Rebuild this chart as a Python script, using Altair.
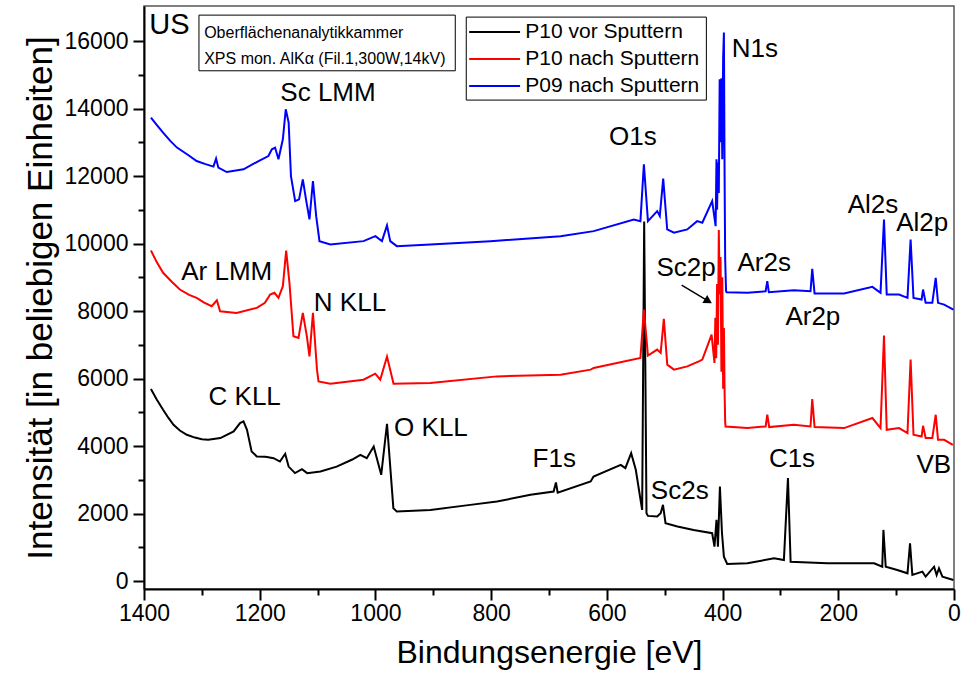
import altair as alt
import pandas as pd

# ---------------- spectra: (binding energy [eV], intensity) ----------------
black = [(1388, 5690), (1378, 5380), (1367, 5076), (1358, 4840), (1349, 4630), (1338, 4460),
         (1326, 4334), (1312, 4250), (1300, 4200), (1289, 4185),
         (1268, 4235), (1245, 4432), (1234, 4680), (1228, 4730), (1222, 4480), (1214, 3840),
         (1205, 3690), (1190, 3680), (1176, 3640), (1165, 3540), (1156, 3770), (1150, 3390),
         (1139, 3197), (1127, 3315), (1118, 3197), (1095, 3244), (1067, 3390), (1040, 3600),
         (1026, 3740), (1015, 3640), (1003, 3986), (990, 3146), (980, 4660), (969, 2158),
         (963, 2057), (905, 2107), (836, 2256), (790, 2355), (732, 2553), (692, 2652),
         (688, 2918), (685, 2620), (628, 2948), (623, 3096), (576, 3443), (568, 3345),
         (558, 3790), (550, 3295), (539, 2107), (535.5, 10650), (531.5, 2009), (529, 1930),
         (513, 1910), (507, 2009), (503, 2256), (498.6, 1712), (478, 1613), (450, 1514),
         (418, 1416), (414, 1018), (410.5, 1811), (408, 1018), (404.6, 2800), (401, 1416),
         (397.7, 721), (392, 505), (357, 525), (311, 674), (294, 623), (287, 3048),
         (282.4, 573), (219, 525), (138, 525), (124, 424), (122, 1514), (118, 424),
         (98, 327), (80.4, 228), (76, 1119), (72, 178), (54.6, 277), (49, 128),
         (34.4, 424), (30, 178), (26, 377), (20, 128), (1, 30)]

red = [(1388, 9795), (1378, 9450), (1367, 9134), (1352, 8870), (1338, 8638), (1322, 8480),
       (1309, 8391), (1296, 8250), (1283, 8143), (1274, 8320),
       (1268.5, 7994), (1240, 7945), (1205, 8094), (1191, 8243), (1182, 8489), (1174.5, 8540),
       (1167.6, 8391), (1160, 8736), (1154.3, 9795), (1148.6, 8836), (1141.7, 7252),
       (1133, 7203), (1125.5, 7945), (1118.5, 7252), (1114, 6658), (1108, 7945), (1101, 6263),
       (1098.4, 5916), (1078, 5848), (1020.6, 5966), (1000.3, 6144), (991.7, 5966),
       (980, 6650), (968.7, 5848), (905, 5868), (790, 6064), (680, 6115), (628, 6263),
       (622.7, 6313), (542, 6610), (536, 8044), (529, 6680), (513, 6857), (507, 6758),
       (501.5, 7768), (495.6, 6411), (484, 6263), (461, 6361), (441, 6509), (435, 6560),
       (426.5, 6955), (419, 7302), (414, 6462), (412.5, 7800), (411, 6600), (409.5, 8800),
       (408, 7000), (406.5, 10400), (405, 8500), (403.5, 9600), (402, 6200), (400.5, 9000),
       (399, 5700), (397.7, 7500), (396.5, 5600), (395.5, 4700), (394.8, 4580), (357, 4532),
       (325.6, 4580), (322.7, 4927), (319.4, 4562), (277, 4630), (248, 4580), (245, 5393),
       (241, 4562), (190, 4532), (141, 4829), (127, 4532), (121, 7272), (116.3, 4482),
       (95, 4532), (80.4, 4384), (75, 6560), (70, 4334), (56, 4283), (53.5, 4600),
       (49, 4236), (37.5, 4236), (31.6, 4927), (27.6, 4185), (17, 4185), (2, 4037)]

blue = [(1388, 13734), (1378, 13520), (1367, 13290), (1355, 13050), (1343, 12844),
        (1325, 12640), (1309, 12446), (1295, 12360), (1280, 12280),
        (1275.4, 12517), (1271.5, 12250), (1257, 12120), (1228, 12200), (1202, 12446),
        (1185, 12594), (1179, 12793), (1173.4, 12844), (1167.6, 12496), (1160, 13090),
        (1155, 13980), (1150, 13586), (1146, 12000), (1138.7, 11259), (1132, 11309),
        (1125.5, 11903), (1120, 11309), (1114, 10715), (1108, 11853), (1102.4, 10813),
        (1096.7, 10072), (1078, 9973), (1020.6, 10072), (1000, 10220), (988.7, 10072),
        (980, 10537), (974.4, 10072), (963, 9923), (905, 9973), (801, 10072), (680, 10220),
        (622.7, 10368), (553.5, 10715), (542, 10665), (536, 12350), (529, 10665),
        (513, 10961), (508.5, 10813), (502.6, 11922), (495.7, 10418), (484, 10320),
        (461, 10418), (444, 10665), (435, 10617), (418, 11259), (412, 10517),
        (410.5, 12500), (409.5, 11000), (408, 12400), (406.5, 11500), (405, 14870),
        (403.5, 13000), (402, 14900), (400.5, 12500), (399, 15500), (397.7, 16256),
        (396.5, 12000), (395.5, 9528), (394, 8600), (393, 8557), (357, 8540),
        (325.6, 8587), (322.7, 8884), (320, 8557), (277, 8617), (248, 8587), (245, 9252),
        (241, 8519), (190, 8519), (141, 8717), (127, 8540), (121, 10715), (116.3, 8489),
        (95, 8489), (80.4, 8391), (75, 10122), (70, 8391), (56, 8341), (53.5, 8638),
        (49, 8243), (37.5, 8243), (31.6, 8985), (27.6, 8243), (17, 8192), (1, 8044)]

series_names = ["P10 vor Sputtern", "P10 nach Sputtern", "P09 nach Sputtern"]
series_colors = ["#000000", "#ff0000", "#0000ff"]

# ---------------- annotations ----------------
peak_labels = ["Sc LMM", "Ar LMM", "N KLL", "C KLL", "O KLL", "F1s", "O1s", "N1s",
               "Sc2p", "Ar2s", "Ar2p", "Al2s", "Al2p", "Sc2s", "C1s", "VB"]
peak_E = [1082, 1257, 1044, 1226, 904, 691, 555, 344, 463, 328, 244, 140, 55, 474, 280, 35]
peak_I = [14459, 9164, 8246, 5443, 4524, 3606, 13165, 15753, 9265, 9431, 7832, 11141,
          10598, 2676, 3606, 3437]

info_lines = ["Oberflächenanalytikkammer", "XPS mon. AlKα (Fil.1,300W,14kV)"]
info_E = [1296, 1296]
info_I = [16247, 15462]
info_box_E = [1305, 862]
info_box_I = [16770, 15120]

corner_text = ["US"]
corner_E = [1391]
corner_I = [16474]

arrow_E = [470.7, 424.7]
arrow_I = [8770, 8296]

# legend placed in data coordinates
legend_box_E = [843, 428]
legend_box_I = [16711, 14252]
legend_line_E = [838, 750]
legend_row_I = [16267, 15467, 14667]
legend_text_E = 741

x_major = list(range(0, 1401, 200))
x_minor = list(range(100, 1400, 200))
y_major = list(range(0, 16001, 2000))
y_minor = list(range(1000, 16000, 2000))

FONT = "Liberation Sans"


def frame(pts, name):
    return pd.DataFrame({"E": [p[0] for p in pts], "I": [p[1] for p in pts],
                         "idx": list(range(len(pts))), "series": name})


xscale = alt.Scale(domain=[0, 1400], reverse=True, nice=False, zero=False)
yscale = alt.Scale(domain=[-237, 17040], nice=False, zero=False)

x_enc = alt.X("E:Q", scale=xscale,
              axis=alt.Axis(values=x_major, format="d", title="Bindungsenergie [eV]",
                            orient="bottom", tickSize=11, tickWidth=2, domainWidth=2,
                            labelFontSize=23, titleFontSize=32, labelPadding=2,
                            titlePadding=12, labelFlush=False, labelOverlap=False,
                            grid=False))
y_enc = alt.Y("I:Q", scale=yscale,
              axis=alt.Axis(values=y_major, format="d",
                            title="Intensität [in beliebigen Einheiten]",
                            orient="left", tickSize=11, tickWidth=2, domainWidth=2,
                            labelFontSize=23, titleFontSize=35, labelPadding=5,
                            titlePadding=6, labelOverlap=False, grid=False))

color_enc = alt.Color("series:N",
                      scale=alt.Scale(domain=series_names, range=series_colors),
                      legend=None)


def line_layer(pts, name):
    return alt.Chart(frame(pts, name)).mark_line(strokeWidth=2).encode(
        x=x_enc, y=y_enc, color=color_enc, order="idx:Q")


lines = [line_layer(black, series_names[0]), line_layer(red, series_names[1]),
         line_layer(blue, series_names[2])]

peaks = alt.Chart(pd.DataFrame({"E": peak_E, "I": peak_I, "t": peak_labels})).mark_text(
    font=FONT, fontSize=26, color="black", align="center", baseline="middle").encode(
    x=x_enc, y=y_enc, text="t:N")

info_box = alt.Chart(pd.DataFrame({"E": [info_box_E[0]], "E2": [info_box_E[1]],
                                   "I": [info_box_I[0]], "I2": [info_box_I[1]]})).mark_rect(
    fill="white", stroke="black", strokeWidth=1).encode(
    x=x_enc, x2="E2:Q", y=y_enc, y2="I2:Q")

info = alt.Chart(pd.DataFrame({"E": info_E, "I": info_I, "t": info_lines})).mark_text(
    font=FONT, fontSize=16, color="black", align="left", baseline="middle").encode(
    x=x_enc, y=y_enc, text="t:N")

corner = alt.Chart(pd.DataFrame({"E": corner_E, "I": corner_I, "t": corner_text})).mark_text(
    font=FONT, fontSize=29, color="black", align="left", baseline="middle").encode(
    x=x_enc, y=y_enc, text="t:N")

arrow_df = pd.DataFrame({"E": arrow_E, "I": arrow_I, "idx": [0, 1]})
arrow_shaft = alt.Chart(arrow_df).mark_line(color="black", strokeWidth=1.5).encode(
    x=x_enc, y=y_enc, order="idx:Q")
arrow_head = alt.Chart(arrow_df.iloc[[1]]).mark_point(
    shape="triangle-right", angle=31, size=90, filled=True, color="black", opacity=1).encode(
    x=x_enc, y=y_enc)

# custom legend
leg_box = alt.Chart(pd.DataFrame({"E": [legend_box_E[0]], "E2": [legend_box_E[1]],
                                  "I": [legend_box_I[0]], "I2": [legend_box_I[1]]})).mark_rect(
    fill="white", stroke="black", strokeWidth=1).encode(
    x=x_enc, x2="E2:Q", y=y_enc, y2="I2:Q")
leg_lines_df = pd.DataFrame({"E": [legend_line_E[0]] * 3, "E2": [legend_line_E[1]] * 3,
                             "I": legend_row_I, "series": series_names})
leg_lines = alt.Chart(leg_lines_df).mark_rule(strokeWidth=2).encode(
    x=x_enc, x2="E2:Q", y=y_enc, color=color_enc)
leg_text_df = pd.DataFrame({"E": [legend_text_E] * 3, "I": legend_row_I, "t": series_names})
leg_text = alt.Chart(leg_text_df).mark_text(
    font=FONT, fontSize=21, color="black", align="left", baseline="middle").encode(
    x=x_enc, y=y_enc, text="t:N")

main = alt.layer(*lines, peaks, info_box, info, corner, arrow_shaft, arrow_head,
                 leg_box, leg_lines, leg_text)

minor = alt.Chart(pd.DataFrame({"E": peak_E, "I": peak_I})).mark_point(opacity=0).encode(
    x=alt.X("E:Q", scale=xscale,
            axis=alt.Axis(values=x_minor, orient="bottom", tickSize=6, tickWidth=2,
                          labels=False, domain=False, title=None, grid=False)),
    y=alt.Y("I:Q", scale=yscale,
            axis=alt.Axis(values=y_minor, orient="left", tickSize=6, tickWidth=2,
                          labels=False, domain=False, title=None, grid=False)))

chart = alt.layer(main, minor).resolve_axis(x="independent", y="independent").properties(
    width=810, height=583,
    autosize=alt.AutoSizeParams(type="none"),
    padding={"left": 144, "top": 6, "right": 7, "bottom": 100},
).configure_view(stroke="#555555", strokeWidth=1.5).configure_axis(
    labelFont=FONT, titleFont=FONT, labelColor="black", titleColor="black",
    titleFontWeight="normal", domainColor="black", tickColor="black")

chart.save("out.html", embed_options={"renderer": "svg", "actions": False})
